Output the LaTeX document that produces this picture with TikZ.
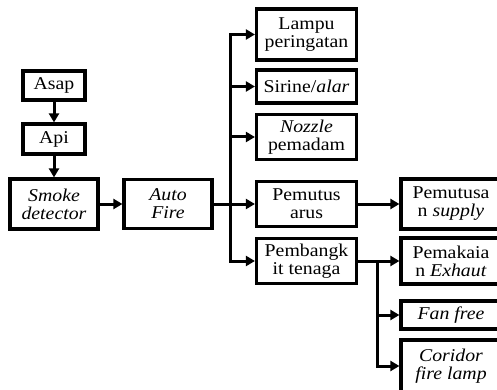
\documentclass[tikz,border=0pt]{standalone}
\usepackage{fontspec}
\setmainfont{Liberation Serif}[FakeStretch=1.1]
\usetikzlibrary{arrows.meta}

\tikzset{
    box/.style = {draw, line width=3.2pt, align=center, inner sep=0pt,
                  font=\fontsize{18}{18}\selectfont},
    link/.style = {line width=3pt},
    arr/.style = {line width=3pt, -{Triangle[length=9pt,width=10pt]}}
}

\begin{document}
\begin{tikzpicture}[x=1pt, y=-1pt]
    \useasboundingbox (0,0) rectangle (497,390);

    % Input chain
    \node[box, minimum width=62, minimum height=29] (asap) at (54,85.5) {Asap};
    \node[box, minimum width=62, minimum height=30] (api) at (54,139) {Api};
    \node[box, minimum width=88, minimum height=50] (smoke) at (54,204) {\textit{Smoke}\\\textit{detector}};
    \node[box, minimum width=88, minimum height=49] (auto) at (168,204) {\textit{Auto}\\\textit{Fire}};

    % Outputs
    \node[box, minimum width=100, minimum height=51] (lampu) at (306.5,34.5) {Lampu\\peringatan};
    \node[box, minimum width=100, minimum height=33] (sirine) at (306.5,86.5) {Sirine/\textit{alar}};
    \node[box, minimum width=100, minimum height=45] (nozzle) at (306.5,137) {\textit{Nozzle}\\pemadam};
    \node[box, minimum width=100, minimum height=45] (pemutus) at (306.5,204) {Pemutus\\arus};
    \node[box, minimum width=100, minimum height=45] (pembangkit) at (306.5,261) {Pembangk\\it tenaga};

    % Second level
    \node[box, minimum width=100, minimum height=50] (supply) at (451,204) {Pemutusa\\n \textit{supply}};
    \node[box, minimum width=100, minimum height=46] (exhaust) at (451,261) {Pemakaia\\n \textit{Exhaut}};
    \node[box, minimum width=100, minimum height=28] (fan) at (451,315) {\textit{Fan free}};
    \node[box, minimum width=100, minimum height=52] (coridor) at (451,366) {\textit{Coridor}\\\textit{fire lamp}};

    % Junctions
    \coordinate (trunk) at (230,204);
    \coordinate (branch) at (377,261);

    % Arrows
    \draw[arr] (asap) -- (api);
    \draw[arr] (api) -- (smoke);
    \draw[arr] (smoke) -- (auto);
    \draw[link] (auto) -- (trunk);
    \draw[arr] (trunk) |- (lampu);
    \draw[arr] (trunk) |- (sirine);
    \draw[arr] (trunk) |- (nozzle);
    \draw[arr] (trunk) -- (pemutus);
    \draw[arr] (trunk) |- (pembangkit);
    \draw[arr] (pemutus) -- (supply);
    \draw[link] (pembangkit) -- (branch);
    \draw[arr] (branch) -- (exhaust);
    \draw[arr] (branch) |- (fan);
    \draw[arr] (branch) |- (coridor);
\end{tikzpicture}
\end{document}
